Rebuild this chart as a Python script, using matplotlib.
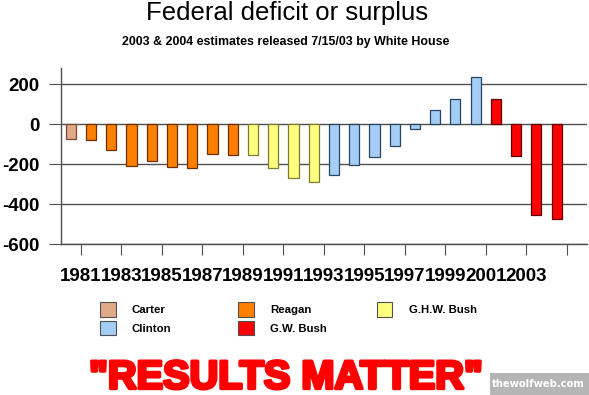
import matplotlib.pyplot as plt
import matplotlib.patheffects as pe
from matplotlib.patches import Rectangle
import numpy as np

# fiscal years and deficit/surplus in $ billions (2003 & 2004 estimates)
years = list(range(1980, 2005))
values = [-74, -79, -128, -208, -185, -212, -221, -150, -155,
          -153, -221, -269, -290,
          -255, -203, -164, -107, -22, 69, 126, 236,
          127, -158, -455, -475]
president = (['Carter'] * 1 + ['Reagan'] * 8 + ['G.H.W. Bush'] * 4 +
             ['Clinton'] * 8 + ['G.W. Bush'] * 4)
yticks = [200, 0, -200, -400, -600]

names = ['Carter', 'Reagan', 'G.H.W. Bush', 'Clinton', 'G.W. Bush']
fills = {'Carter': '#DFA98A', 'Reagan': '#FF8000', 'G.H.W. Bush': '#FFFF80',
         'Clinton': '#A4CEF6', 'G.W. Bush': '#FF0000'}
edges = {'Carter': '#7A4A30', 'Reagan': '#6A3000', 'G.H.W. Bush': '#7A7A30',
         'Clinton': '#2A4560', 'G.W. Bush': '#600000'}

plt.rcParams['axes.unicode_minus'] = False

W, H = 589, 395
fig = plt.figure(figsize=(W / 100, H / 100), dpi=100)
ax = fig.add_axes([60.7 / W, (H - 244) / H, (587 - 60.7) / W, (244 - 68.3) / H])

x = np.arange(len(years))
ax.bar(x, values, width=0.5,
       color=[fills[p] for p in president],
       edgecolor=[edges[p] for p in president], linewidth=0.9, zorder=3)

ax.set_xlim(-0.5, len(years) + 0.5)
ax.set_ylim(-600, 280)
ax.set_yticks(yticks)
ax.set_yticklabels([str(v) for v in yticks])
ax.grid(axis='y', color='#505050', linewidth=1, zorder=1)
ax.set_axisbelow(True)

# ticks sit between category pairs, labelled with the odd years
tick_pos = x[::2] + 0.5
tick_lab = [str(y) for y in years[1::2]] + ['']
ax.set_xticks(tick_pos[:len(tick_lab)])
ax.set_xticklabels(tick_lab)

for s in ['top', 'right']:
    ax.spines[s].set_visible(False)
for s in ['left', 'bottom']:
    ax.spines[s].set_color('#505050')
    ax.spines[s].set_linewidth(1)

ax.tick_params(axis='x', length=8, color='#505050', pad=9)
ax.tick_params(axis='y', length=8.4, color='#505050', pad=7)
for lab in ax.get_xticklabels() + ax.get_yticklabels():
    lab.set_fontfamily('Liberation Sans')
    lab.set_fontweight('bold')
    lab.set_fontsize(13.5)

fig.text(287 / W, 1 - 20 / H, 'Federal deficit or surplus', ha='center',
         va='baseline', fontsize=18.5, family='Liberation Sans')
fig.text(286 / W, 1 - 45 / H, '2003 & 2004 estimates released 7/15/03 by White House',
         ha='center', va='baseline', fontsize=8.9, fontweight='bold',
         family='Liberation Sans')

# legend
cols = [100, 238.3, 376.7]
rows = [302, 320.5]
for i, name in enumerate(names):
    cx, ry = cols[i % 3], rows[i // 3]
    fig.add_artist(Rectangle((cx / W, 1 - (ry + 14.5) / H), 15.5 / W, 14.5 / H,
                             transform=fig.transFigure, facecolor=fills[name],
                             edgecolor='#505050', linewidth=0.8))
    fig.text((cx + 32) / W, 1 - (ry + 8) / H, name, ha='left', va='center',
             fontsize=8.2, fontweight='bold', family='Liberation Sans')

fig.text(285.5 / W, 1 - 388.5 / H, '"RESULTS MATTER"', ha='center', va='baseline',
         fontsize=28.6, fontweight='bold', color='#FF0000', family='Liberation Sans',
         path_effects=[pe.withStroke(linewidth=2.4, foreground='#FF0000')])

# watermark
fig.add_artist(Rectangle((490 / W, 0), 99 / W, 22 / H, transform=fig.transFigure,
                         facecolor='#B5B5B5', edgecolor='none'))
fig.text(538 / W, 1 - 384 / H, 'thewolfweb.com', ha='center', va='center',
         fontsize=7.2, fontweight='bold', color='white', family='DejaVu Sans')

fig.savefig('out.png', dpi=100)
